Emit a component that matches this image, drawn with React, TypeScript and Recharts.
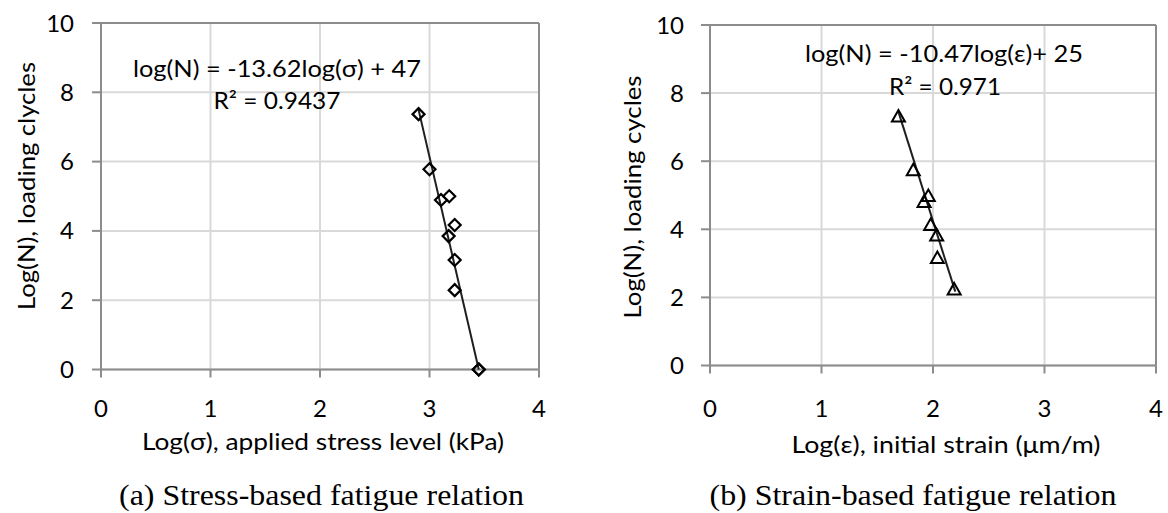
import React from 'react';
import { ScatterChart, Scatter, XAxis, YAxis, CartesianGrid, ReferenceLine } from 'recharts';

// ---- data ----
const stressLogSigma = [2.9, 3.0, 3.105, 3.18, 3.23, 3.175, 3.23, 3.23, 3.45, 3.45];
const stressLogN = [7.37, 5.78, 4.89, 5.0, 4.17, 3.85, 3.16, 2.29, 0, 0];
const stressTrendX = [2.9, 3.45];
const stressTrendY = [7.5, 0.0];

const strainLogEps = [1.69, 1.823, 1.958, 1.92, 1.979, 2.033, 2.039, 2.19];
const strainLogN = [7.33, 5.75, 4.99, 4.82, 4.14, 3.83, 3.17, 2.25];
const strainTrendX = [1.69, 2.2];
const strainTrendY = [7.45, 2.17];

const xTicks = [0, 1, 2, 3, 4];
const yTicks = [0, 2, 4, 6, 8, 10];

const toPoints = (xs: number[], ys: number[]) => xs.map((x, i) => ({ x, y: ys[i] }));

const stressPoints = toPoints(stressLogSigma, stressLogN);
const stressTrend = toPoints(stressTrendX, stressTrendY);
const strainPoints = toPoints(strainLogEps, strainLogN);
const strainTrend = toPoints(strainTrendX, strainTrendY);

const AXIS = '#8c8c8c';
const GRID = '#d9d9d9';
const FONT = 'Lato, "Open Sans", sans-serif';

const Diamond = (props: any) => {
  const { cx, cy } = props;
  const r = 6;
  return (
    <path
      d={`M${cx},${cy - r}L${cx + r},${cy}L${cx},${cy + r}L${cx - r},${cy}Z`}
      fill="none"
      stroke="#000"
      strokeWidth={2.2}
    />
  );
};

const Triangle = (props: any) => {
  const { cx, cy } = props;
  return (
    <path
      d={`M${cx},${cy - 6}L${cx + 6.5},${cy + 5.5}L${cx - 6.5},${cy + 5.5}Z`}
      fill="none"
      stroke="#000"
      strokeWidth={2}
      strokeLinejoin="miter"
    />
  );
};

const NoShape = () => <g />;

type PanelProps = {
  left: number;
  width: number;
  margin: { top: number; right: number; bottom: number; left: number };
  yAxisWidth: number;
  xAxisHeight: number;
  xTickMargin: number;
  yTickMargin: number;
  points: { x: number; y: number }[];
  trend: { x: number; y: number }[];
  shape: any;
};

function Panel(p: PanelProps) {
  const tick = { fontFamily: FONT, fontSize: 24, fill: '#000' };
  return (
    <div style={{ position: 'absolute', left: p.left, top: 0 }}>
      <ScatterChart width={p.width} height={513} margin={p.margin}>
        <CartesianGrid stroke={GRID} strokeWidth={2} />
        <XAxis
          type="number"
          dataKey="x"
          domain={[0, 4]}
          ticks={xTicks}
          interval={0}
          height={p.xAxisHeight}
          tickSize={8}
          tickMargin={p.xTickMargin}
          axisLine={{ stroke: AXIS, strokeWidth: 2 }}
          tickLine={{ stroke: AXIS, strokeWidth: 2 }}
          tick={tick}
        />
        <YAxis
          type="number"
          dataKey="y"
          domain={[0, 10]}
          ticks={yTicks}
          interval={0}
          width={p.yAxisWidth}
          tickSize={9}
          tickMargin={p.yTickMargin}
          axisLine={{ stroke: AXIS, strokeWidth: 2 }}
          tickLine={{ stroke: AXIS, strokeWidth: 2 }}
          tick={tick}
        />
        <ReferenceLine y={10} stroke={AXIS} strokeWidth={2} />
        <ReferenceLine x={4} stroke={AXIS} strokeWidth={2} />
        <Scatter
          data={p.trend}
          line={{ stroke: '#1f1f1f', strokeWidth: 2 }}
          shape={NoShape}
          isAnimationActive={false}
        />
        <Scatter data={p.points} shape={p.shape} isAnimationActive={false} />
      </ScatterChart>
    </div>
  );
}

const T = (props: any) => (
  <text
    textAnchor="middle"
    dominantBaseline="central"
    lengthAdjust="spacingAndGlyphs"
    fill="#000"
    fontFamily={FONT}
    fontSize={24}
    {...props}
  />
);

export default function App() {
  return (
    <div style={{ position: 'absolute', left: 0, top: 0, width: 1168, height: 513, background: '#fff', overflow: 'hidden' }}>
      <Panel
        left={0}
        width={584}
        margin={{ top: 23, right: 45, bottom: 63.5, left: 0 }}
        yAxisWidth={101}
        xAxisHeight={80}
        xTickMargin={22}
        yTickMargin={18}
        points={stressPoints}
        trend={stressTrend}
        shape={Diamond}
      />
      <Panel
        left={584}
        width={584}
        margin={{ top: 25, right: 12, bottom: 67.5, left: 0 }}
        yAxisWidth={126}
        xAxisHeight={80}
        xTickMargin={26}
        yTickMargin={17}
        points={strainPoints}
        trend={strainTrend}
        shape={Triangle}
      />
      <svg width={1168} height={513} style={{ position: 'absolute', left: 0, top: 0, pointerEvents: 'none' }}>
        <T x={25} y={186} textLength={248} transform="rotate(-90 25 186)">Log(N), loading clycles</T>
        <T x={323} y={440} textLength={362}>Log(σ), applied stress level (kPa)</T>
        <T x={277} y={67} textLength={288}>log(N) = -13.62log(σ) + 47</T>
        <T x={277} y={99} textLength={127}>R² = 0.9437</T>
        <T x={321.5} y={495} textLength={405} fontFamily='"Liberation Serif", serif' fontSize={29}>(a) Stress-based fatigue relation</T>

        <T x={631.5} y={197} textLength={243} transform="rotate(-90 631.5 197)">Log(N), loading cycles</T>
        <T x={946} y={443} textLength={309}>Log(ε), initial strain (μm/m)</T>
        <T x={944} y={52} textLength={278}>log(N) = -10.47log(ε)+ 25</T>
        <T x={945} y={85.5} textLength={112}>R² = 0.971</T>
        <T x={913} y={495} textLength={407} fontFamily='"Liberation Serif", serif' fontSize={29}>(b) Strain-based fatigue relation</T>
      </svg>
    </div>
  );
}
